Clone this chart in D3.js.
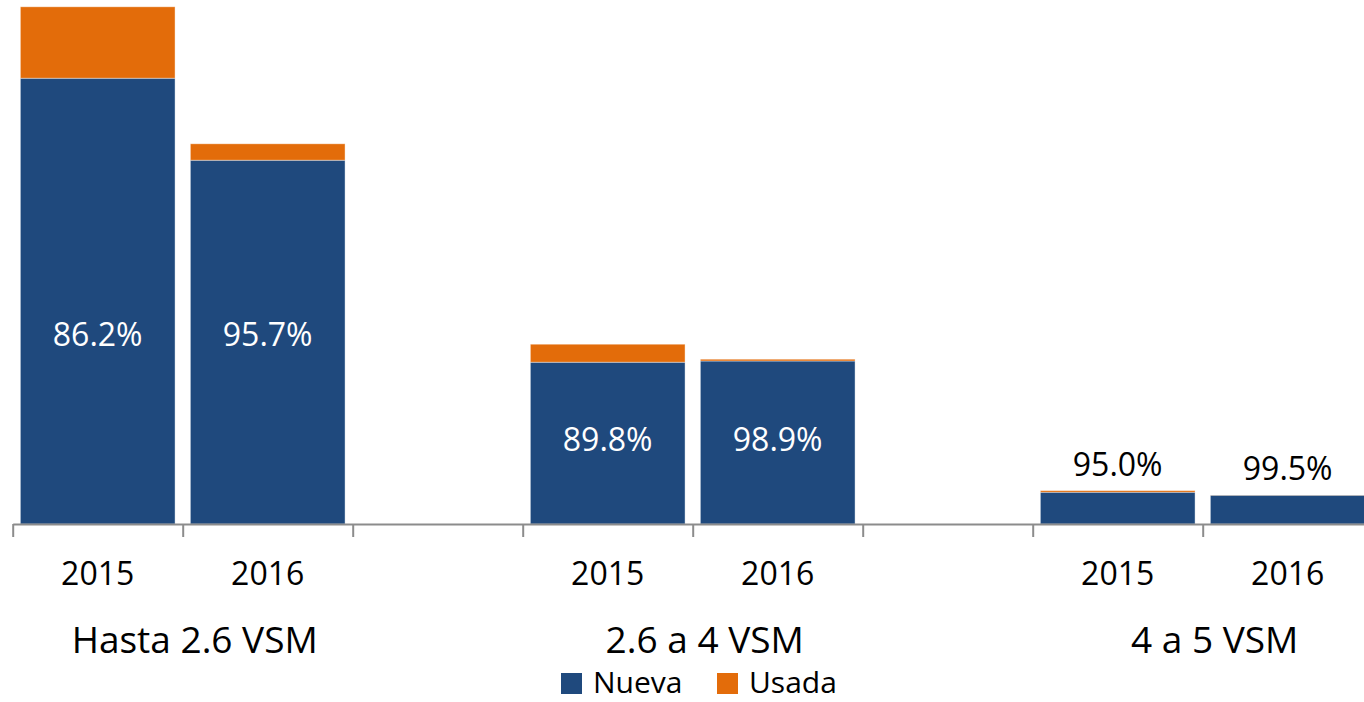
<!DOCTYPE html>
<html>
<head>
<meta charset="utf-8">
<script src="https://cdn.jsdelivr.net/npm/d3@7"></script>
<style>
  body { margin: 0; background: #fff; }
  svg text { font-family: "Open Sans", sans-serif; }
</style>
</head>
<body>
<script>
'use strict'
// values per bar (thousands)
const years = ["2015", "2016", "2015", "2016", "2015", "2016"];
const groups = ["Hasta 2.6 VSM", "2.6 a 4 VSM", "4 a 5 VSM"];
const nueva = [222.9, 181.9, 80.9, 81.5, 15.9, 14.4];
const usada = [35.7, 8.2, 9.0, 0.9, 0.8, 0.07];
const pctLabels = ["86.2%", "95.7%", "89.8%", "98.9%", "95.0%", "99.5%"];
const seriesNames = ["Nueva", "Usada"];
const colors = ["#1f497d", "#e36c0a"];

const w = 1364;
const h = 702;
const baseY = 524;
const nSlots = 8;

const dataset = years.map((y, i) => ({
	i: i,
	slot: Math.floor(i / 2) * 3 + (i % 2),
	year: y,
	Nueva: nueva[i],
	Usada: usada[i],
	label: pctLabels[i]
}));

const svg = d3.select("body")
	.append("svg")
	.attr("width", w)
	.attr("height", h);

const xScale = d3.scaleBand()
	.domain(d3.range(nSlots))
	.range([12.7, 12.7 + nSlots * 170])
	.paddingInner(0.09)
	.paddingOuter(0.045);

const edgeScale = d3.scaleLinear()
	.domain([0, nSlots])
	.range([12.7, 12.7 + nSlots * 170]);

const yScale = d3.scaleLinear()
	.domain([0, 260])
	.range([baseY, 4]);

const stack = d3.stack().keys(seriesNames);
const layers = stack(dataset);

svg.selectAll("g.layer")
	.data(layers)
	.enter()
	.append("g")
	.attr("class", "layer")
	.attr("fill", (d, k) => colors[k])
	.selectAll("rect")
	.data((d) => d)
	.enter()
	.append("rect")
	.attr("x", (d) => xScale(d.data.slot))
	.attr("y", (d) => yScale(d[1]))
	.attr("width", xScale.bandwidth())
	.attr("height", (d) => yScale(d[0]) - yScale(d[1]))
	.attr("stroke", "#ffffff")
	.attr("stroke-opacity", 0.5)
	.attr("stroke-width", 0.8);

// axis with boundary ticks
const xAxis = d3.axisBottom(edgeScale)
	.tickValues(d3.range(0, nSlots + 1))
	.tickFormat("")
	.tickSizeInner(13)
	.tickSizeOuter(0);

const axisG = svg.append("g")
	.attr("transform", "translate(0," + baseY + ")")
	.call(xAxis);
axisG.selectAll("path, line")
	.attr("stroke", "#8c8c8c")
	.attr("stroke-width", 2);

// percentage labels
svg.selectAll("text.pct")
	.data(dataset)
	.enter()
	.append("text")
	.attr("class", "pct")
	.attr("x", (d) => xScale(d.slot) + xScale.bandwidth() / 2)
	.attr("y", (d) => {
		const g = Math.floor(d.i / 2);
		if (g === 2) return yScale(d.Nueva + d.Usada) - 15;
		const minN = Math.min(nueva[g * 2], nueva[g * 2 + 1]);
		return yScale(minN * 0.52) + 11;
	})
	.attr("text-anchor", "middle")
	.attr("font-size", "32px")
	.attr("fill", (d) => Math.floor(d.i / 2) === 2 ? "#000" : "#fff")
	.text((d) => d.label);

// year labels
svg.selectAll("text.year")
	.data(dataset)
	.enter()
	.append("text")
	.attr("class", "year")
	.attr("x", (d) => xScale(d.slot) + xScale.bandwidth() / 2)
	.attr("y", 585)
	.attr("text-anchor", "middle")
	.attr("font-size", "32px")
	.attr("fill", "#000")
	.text((d) => d.year);

// group labels
svg.selectAll("text.group")
	.data(groups)
	.enter()
	.append("text")
	.attr("class", "group")
	.attr("x", (d, g) => edgeScale(g * 3 + 1) + 12)
	.attr("y", 653)
	.attr("text-anchor", "middle")
	.attr("font-size", "37px")
	.attr("fill", "#000")
	.text((d) => d);

// legend
const legend = svg.append("g")
	.attr("transform", "translate(561,673)");

const items = legend.selectAll("g")
	.data(seriesNames)
	.enter()
	.append("g")
	.attr("transform", (d, k) => "translate(" + (k * 156) + ",0)");

items.append("rect")
	.attr("width", 21)
	.attr("height", 21)
	.attr("fill", (d, k) => colors[k]);

items.append("text")
	.attr("x", 32)
	.attr("y", 20)
	.attr("font-size", "30px")
	.attr("fill", "#000")
	.text((d) => d);
</script>
</body>
</html>
